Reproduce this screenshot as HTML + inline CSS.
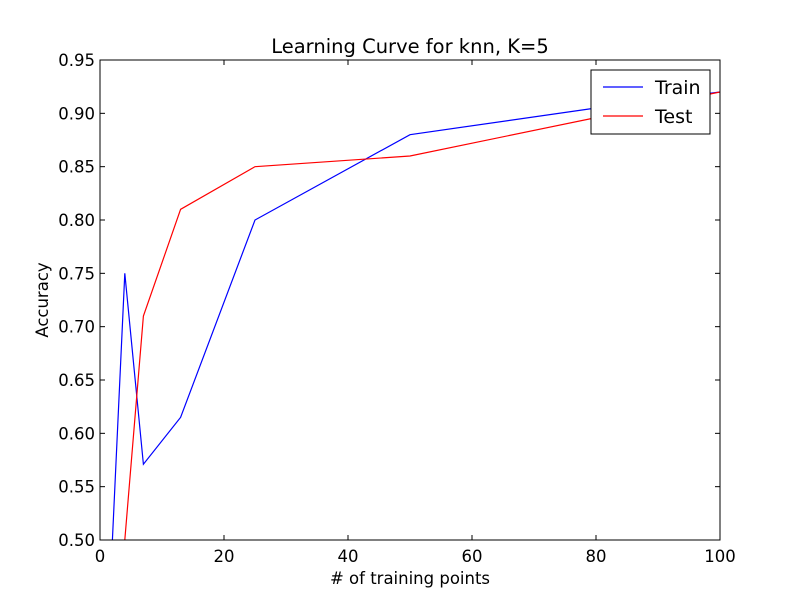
<!DOCTYPE html>
<html><head><meta charset="utf-8"><style>body{margin:0;background:#fff}svg{display:block}text{font-family:"DejaVu Sans","Liberation Sans",sans-serif;fill:#000}</style></head>
<body>
<svg id="chart" width="800" height="600">
<rect width="800" height="600" fill="#fff"/>
<defs><clipPath id="plotclip"><rect x="100" y="60" width="620" height="480"/></clipPath></defs>
<text x="410" y="53" text-anchor="middle" font-size="19.5">Learning Curve for knn, K=5</text>
<text x="410" y="584" text-anchor="middle" font-size="16.5"># of training points</text>
<text x="48" y="300" text-anchor="middle" font-size="16.5" transform="rotate(-90 48 300)">Accuracy</text>
</svg>
<script>
const xTicks=[0,20,40,60,80,100];
const yTicks=[0.50,0.55,0.60,0.65,0.70,0.75,0.80,0.85,0.90,0.95];
const trainX=[2,4,7,13,25,50,80,100];
const trainY=[0.50,0.75,0.571,0.615,0.80,0.88,0.905,0.92];
const testX=[4,7,13,25,50,80,100];
const testY=[0.50,0.71,0.81,0.85,0.86,0.896,0.92];
const svg=document.getElementById('chart'),NS='http://www.w3.org/2000/svg';
const L=100,R=720,T=60,B=540;
const sx=v=>L+(v-0)/(100-0)*(R-L);
const sy=v=>B-(v-0.5)/(0.95-0.5)*(B-T);
function mk(t,a){const e=document.createElementNS(NS,t);for(const k in a)e.setAttribute(k,a[k]);svg.appendChild(e);return e;}
xTicks.forEach(v=>{
 const x=sx(v);
 const t1=mk('line',{x1:x,x2:x,y1:B,y2:B-5,stroke:'#000'});
 
 
 const t2=mk('line',{x1:x,x2:x,y1:T,y2:T+5,stroke:'#000'});
 
 
 const lb=mk('text',{x:x,y:B+22,'text-anchor':'middle','font-size':'16.5'});lb.textContent=v;
 
 
});
yTicks.forEach(v=>{
 const y=sy(v);
 const t1=mk('line',{x1:L,x2:L+5,y1:y,y2:y,stroke:'#000'});
 
 
 const t2=mk('line',{x1:R,x2:R-5,y1:y,y2:y,stroke:'#000'});
 
 
 const lb=mk('text',{x:L-5,y:y+6,'text-anchor':'end','font-size':'16.5'});lb.textContent=v.toFixed(2);
 
 
});
function line(xs,ys,c,n){
 const p=mk('polyline',{points:xs.map((x,i)=>sx(x)+','+sy(ys[i])).join(' '),fill:'none',stroke:c,'stroke-width':1.2,'clip-path':'url(#plotclip)'});
 
 
}
line(trainX,trainY,'#0000ff','train-line');
line(testX,testY,'#ff0000','test-line');
const fr=mk('rect',{x:L,y:T,width:R-L,height:B-T,fill:'none',stroke:'#000'});


const lg=mk('rect',{x:591,y:70,width:119,height:64,fill:'#fff',stroke:'#000'});


[['Train','#0000ff',87],['Test','#ff0000',116]].forEach(([n,c,y])=>{
 const l=mk('line',{x1:603,x2:643,y1:y,y2:y,stroke:c,'stroke-width':1.2});
 
 
 const t=mk('text',{x:655,y:y+7,'font-size':'19'});t.textContent=n;
 
 
});
</script>
</body></html>
